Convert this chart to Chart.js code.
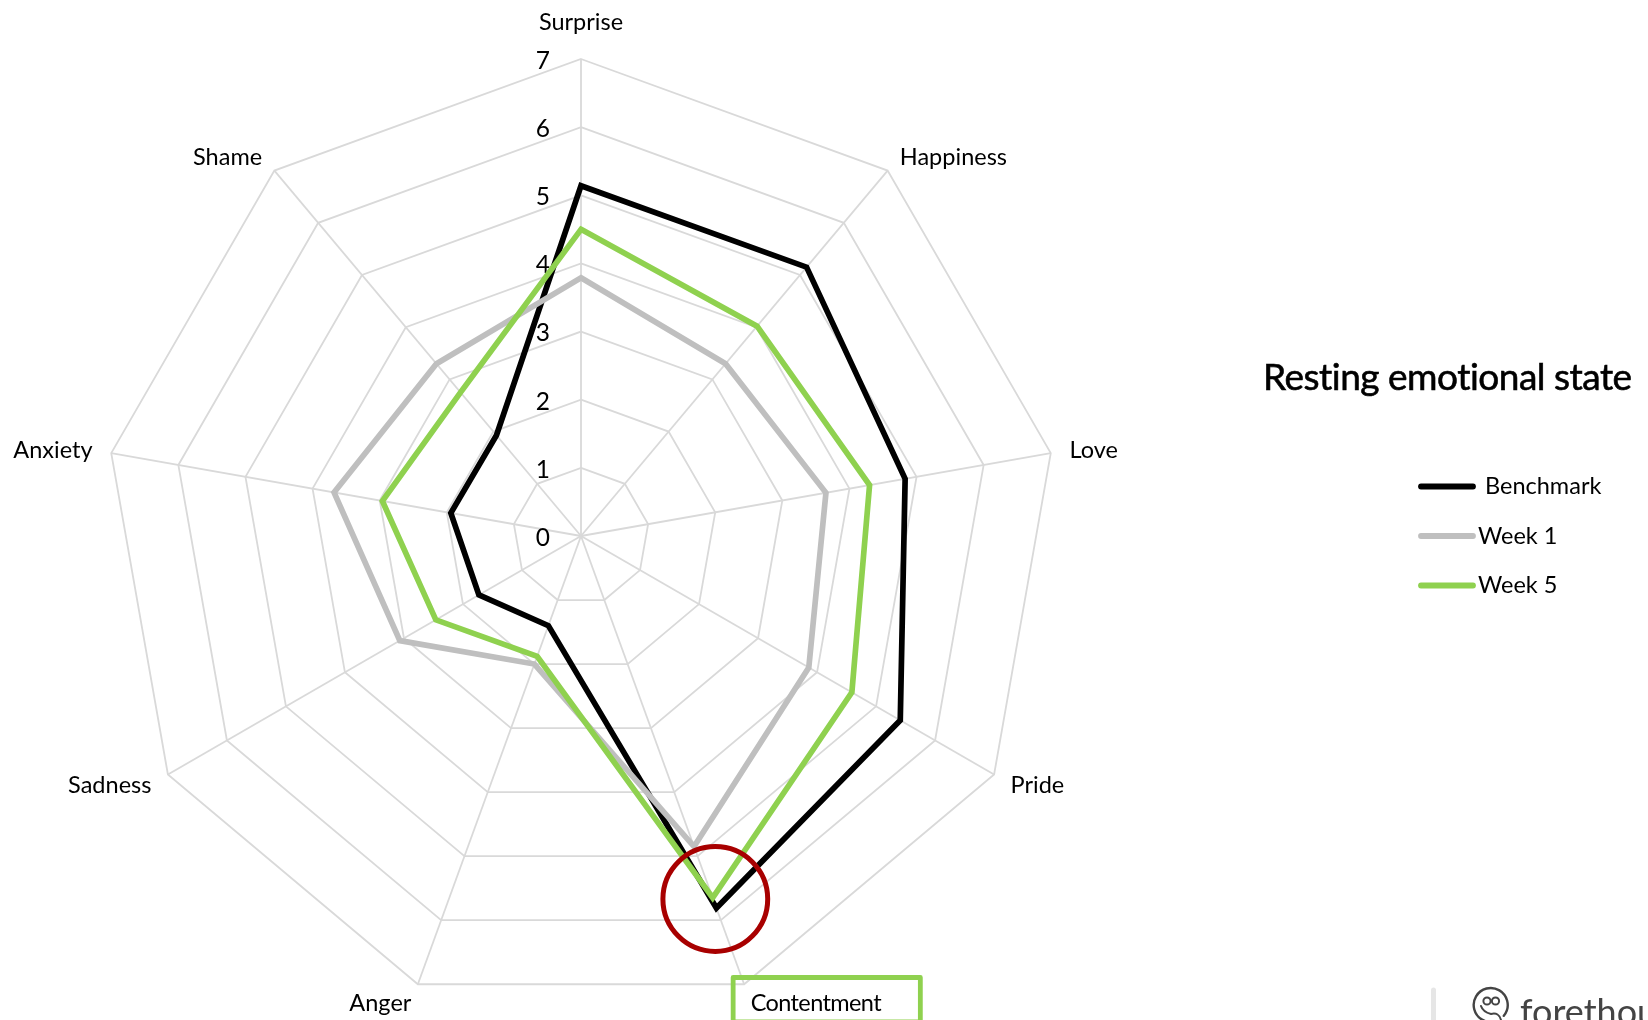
<!DOCTYPE html>
<html>
<head>
<meta charset="utf-8">
<title>Resting emotional state</title>
<style>
  html, body { margin: 0; padding: 0; background: #fff; overflow: hidden; }
  canvas { display: block; }
</style>
<script src="https://cdn.jsdelivr.net/npm/chart.js@4/dist/chart.umd.min.js"></script>
</head>
<body>
<canvas id="radar" width="1648" height="1020"></canvas>
<script>
const categories = ['Surprise', 'Happiness', 'Love', 'Pride', 'Contentment', 'Anger', 'Sadness', 'Anxiety', 'Shame'];
const benchmark = [5.14, 5.15, 4.83, 5.41, 5.81, 1.40, 1.73, 1.94, 1.93];
const week1 = [3.79, 3.30, 3.65, 3.86, 4.85, 2.00, 3.07, 3.68, 3.30];
const week5 = [4.50, 4.02, 4.30, 4.59, 5.65, 1.88, 2.46, 2.96, 2.75];
const tickLabels = ['0', '1', '2', '3', '4', '5', '6', '7'];
const chartTitle = 'Resting emotional state';
const highlighted = 'Contentment';
const brandName = 'forethought';

const BLACK = '#000000';
const GREY = '#BFBFBF';
const GREEN = '#8FD14F';
const RED = '#A80000';
const GRID = '#D9D9D9';
const FONT = 'Lato, sans-serif';

// Axis captions, value labels, legend and annotations are painted on top of the radial scale.
const decorations = {
  id: 'decorations',
  beforeDatasetsDraw(chart) {
    const { ctx } = chart;
    const r = chart.scales.r;
    ctx.save();
    ctx.fillStyle = '#000';
    ctx.font = '24.5px ' + FONT;
    ctx.textAlign = 'right';
    ctx.textBaseline = 'middle';
    r.ticks.forEach((t) => {
      ctx.fillText(t.label, r.xCenter - 31, r.yCenter - r.getDistanceFromCenterForValue(t.value) + 2);
    });
    ctx.restore();
  },
  afterDraw(chart) {
    const { ctx } = chart;
    const r = chart.scales.r;
    ctx.save();

    // Category captions just outside the outer ring
    ctx.fillStyle = '#000';
    ctx.font = '23.5px ' + FONT;
    ctx.textBaseline = 'alphabetic';
    categories.forEach((name, i) => {
      const top = i === 0;
      const p = r.getPointPosition(i, r.drawingArea + (top ? 38 : 19));
      ctx.textAlign = top ? 'center' : (p.x > r.xCenter ? 'left' : 'right');
      ctx.letterSpacing = name === highlighted ? '-0.6px' : '0.01px';
      ctx.fillText(name, p.x, p.y + 8.5);
      if (name === highlighted) {
        ctx.save();
        ctx.strokeStyle = GREEN;
        ctx.lineWidth = 4.8;
        ctx.lineJoin = 'round';
        ctx.strokeRect(p.x - 17.5, p.y - 24.6, 187.2, 44.3);
        ctx.restore();
      }
    });
    ctx.letterSpacing = '0px';

    // Circle around the highlighted peak
    ctx.strokeStyle = RED;
    ctx.lineWidth = 5;
    ctx.beginPath();
    ctx.arc(715.3, 899, 52.4, 0, Math.PI * 2);
    ctx.stroke();

    // Title
    ctx.fillStyle = '#000';
    ctx.strokeStyle = '#000';
    ctx.lineWidth = 0.6;
    ctx.textAlign = 'left';
    ctx.font = '37px ' + FONT;
    ctx.letterSpacing = '-0.5px';
    ctx.fillText(chartTitle, 1263, 390);
    ctx.strokeText(chartTitle, 1263, 390);
    ctx.letterSpacing = '0px';

    // Legend
    ctx.font = '23.5px ' + FONT;
    ctx.textBaseline = 'middle';
    ctx.lineCap = 'round';
    ctx.lineWidth = 5.8;
    const legendY = [486.5, 536, 585.5];
    const legendX = [1485, 1478, 1478];
    chart.data.datasets.forEach((ds, i) => {
      ctx.strokeStyle = ds.borderColor;
      ctx.beginPath();
      ctx.moveTo(1421, legendY[i]);
      ctx.lineTo(1473, legendY[i]);
      ctx.stroke();
      ctx.fillText(ds.label, legendX[i], legendY[i]);
    });

    // Brand mark in the lower corner
    ctx.strokeStyle = '#E6E6E6';
    ctx.lineWidth = 5;
    ctx.beginPath();
    ctx.moveTo(1433.5, 990);
    ctx.lineTo(1433.5, 1030);
    ctx.stroke();

    ctx.strokeStyle = '#444';
    ctx.lineWidth = 2.4;
    ctx.beginPath();
    ctx.arc(1490.7, 1005, 17, Math.PI * 0.42, Math.PI * 0.22);
    ctx.stroke();
    ctx.lineWidth = 2;
    ctx.beginPath();
    ctx.arc(1487, 1001, 3.6, 0, Math.PI * 2);
    ctx.stroke();
    ctx.beginPath();
    ctx.arc(1495.5, 1001, 3.6, 0, Math.PI * 2);
    ctx.stroke();
    ctx.beginPath();
    ctx.moveTo(1481, 1006);
    ctx.quadraticCurveTo(1483, 1012, 1491, 1014);
    ctx.quadraticCurveTo(1499, 1012, 1501, 1020);
    ctx.stroke();

    ctx.fillStyle = '#444';
    ctx.textBaseline = 'alphabetic';
    ctx.font = '36px ' + FONT;
    ctx.fillText(brandName, 1520, 1025);

    ctx.restore();
  }
};

const series = (label, data, color, order) => ({
  label,
  data,
  order,
  borderColor: color,
  backgroundColor: 'transparent',
  borderWidth: 5.7,
  borderJoinStyle: 'miter',
  pointRadius: 0,
  pointHoverRadius: 0,
  fill: false,
  tension: 0
});

new Chart(document.getElementById('radar'), {
  type: 'radar',
  data: {
    labels: categories,
    datasets: [
      series('Benchmark', benchmark, BLACK, 3),
      series('Week 1', week1, GREY, 2),
      series('Week 5', week5, GREEN, 1)
    ]
  },
  options: {
    responsive: false,
    animation: false,
    layout: { padding: { left: 104, right: 590, top: 59, bottom: 7 } },
    plugins: {
      legend: { display: false },
      title: { display: false },
      tooltip: { enabled: false }
    },
    scales: {
      r: {
        min: 0,
        max: 7,
        ticks: {
          stepSize: 1,
          display: false,
          callback: (value, index) => tickLabels[index]
        },
        pointLabels: { display: false },
        grid: { color: GRID, lineWidth: 1.8 },
        angleLines: { color: GRID, lineWidth: 1.8 }
      }
    }
  },
  plugins: [decorations]
});
</script>
</body>
</html>
